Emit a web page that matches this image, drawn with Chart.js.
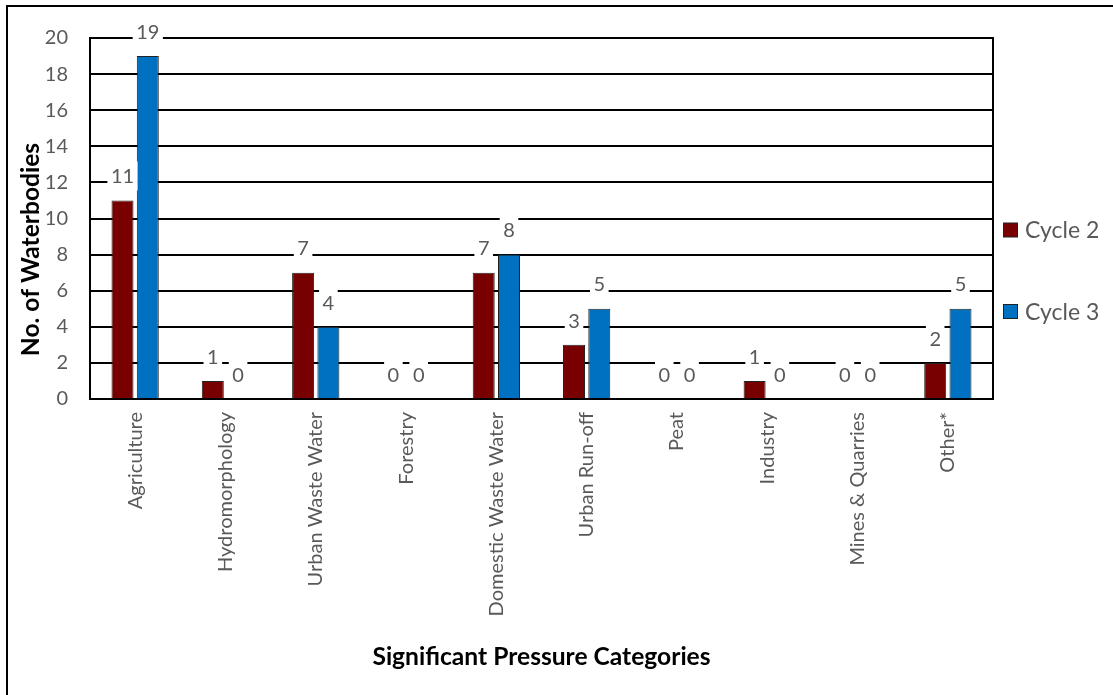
<!DOCTYPE html>
<html>
<head>
<meta charset="utf-8">
<script src="https://cdn.jsdelivr.net/npm/chart.js@4.4.1/dist/chart.umd.min.js"></script>
<style>
  html, body { margin: 0; padding: 0; background: #fff; overflow: hidden; }
  canvas { display: block; }
</style>
</head>
<body>
<canvas id="chart" width="1113" height="695"></canvas>
<script>
// Significant pressures on waterbodies, by river basin management cycle
const categories = ['Agriculture', 'Hydromorphology', 'Urban Waste Water', 'Forestry',
  'Domestic Waste Water', 'Urban Run-off', 'Peat', 'Industry', 'Mines & Quarries', 'Other*'];
const cycle2 = [11, 1, 7, 0, 7, 3, 0, 1, 0, 2];
const cycle3 = [19, 0, 4, 0, 8, 5, 0, 0, 0, 5];
const seriesNames = ['Cycle 2', 'Cycle 3'];
const seriesColors = ['#780000', '#0070C0'];
const yMin = 0, yMax = 20, yStep = 2;
const xTitle = 'Significant Pressure Categories';
const yTitle = 'No. of Waterbodies';

const FONT = 'Lato, "Liberation Sans", sans-serif';
const GREY = '#595959';

// white page with a border along the top and left
const pageFrame = {
  id: 'pageFrame',
  beforeDraw(chart) {
    const ctx = chart.ctx;
    ctx.save();
    ctx.fillStyle = '#fff';
    ctx.fillRect(0, 0, chart.width, chart.height);
    ctx.strokeStyle = '#000';
    ctx.lineWidth = 2;
    ctx.beginPath();
    ctx.moveTo(6, 6); ctx.lineTo(chart.width, 6);
    ctx.moveTo(7, 5); ctx.lineTo(7, chart.height);
    ctx.stroke();
    ctx.restore();
  }
};

// black outline round the plot area
const plotFrame = {
  id: 'plotFrame',
  beforeDatasetsDraw(chart) {
    const { ctx, chartArea: a } = chart;
    ctx.save();
    ctx.strokeStyle = '#000';
    ctx.lineWidth = 2;
    ctx.strokeRect(Math.round(a.left), Math.round(a.top), Math.round(a.right - a.left), Math.round(a.bottom - a.top));
    ctx.restore();
  }
};

// value labels on white boxes above each bar
const valueLabels = {
  id: 'valueLabels',
  afterDatasetsDraw(chart) {
    const ctx = chart.ctx;
    ctx.save();
    ctx.font = '20px ' + FONT;
    chart.data.datasets.forEach((ds, i) => {
      chart.getDatasetMeta(i).data.forEach((el, j) => {
        const txt = String(ds.data[j]);
        const w = ctx.measureText(txt).width;
        const cy = el.y - 24.5;
        ctx.fillStyle = '#fff';
        ctx.fillRect(el.x - w / 2 - 3.5, cy - 14.5, w + 7, 29);
        ctx.fillStyle = GREY;
        ctx.textAlign = 'center';
        ctx.textBaseline = 'alphabetic';
        ctx.fillText(txt, el.x, cy + 7.2);
      });
    });
    ctx.restore();
  }
};

// vertical axis title, set a little below the middle of the plot
const yAxisTitle = {
  id: 'yAxisTitle',
  afterDraw(chart) {
    const { ctx, chartArea: a } = chart;
    ctx.save();
    ctx.translate(39, (a.top + a.bottom) / 2 + 31);
    ctx.rotate(-Math.PI / 2);
    ctx.font = 'bold 24.6px ' + FONT;
    ctx.fillStyle = '#000';
    ctx.textAlign = 'center';
    ctx.textBaseline = 'alphabetic';
    ctx.fillText(yTitle, 0, 0);
    ctx.restore();
  }
};

// legend to the right of the plot
const sideLegend = {
  id: 'sideLegend',
  afterDraw(chart) {
    const ctx = chart.ctx;
    const rows = [230, 311.5];
    ctx.save();
    ctx.font = '23px ' + FONT;
    chart.data.datasets.forEach((ds, i) => {
      const cy = rows[i];
      ctx.fillStyle = ds.backgroundColor;
      ctx.fillRect(1003.5, cy - 7, 14, 14);
      ctx.strokeStyle = '#222';
      ctx.lineWidth = 1;
      ctx.strokeRect(1003.5, cy - 7, 14, 14);
      ctx.fillStyle = GREY;
      ctx.textAlign = 'left';
      ctx.textBaseline = 'alphabetic';
      ctx.fillText(ds.label, 1025, cy + 8.2);
    });
    ctx.restore();
  }
};

new Chart(document.getElementById('chart'), {
  type: 'bar',
  data: {
    labels: categories,
    datasets: [
      { label: seriesNames[0], data: cycle2, backgroundColor: seriesColors[0], borderColor: '#222', borderWidth: 1 },
      { label: seriesNames[1], data: cycle3, backgroundColor: seriesColors[1], borderColor: '#222', borderWidth: 1 }
    ]
  },
  options: {
    responsive: false,
    animation: false,
    devicePixelRatio: 1,
    layout: { padding: { left: 8, top: 38, right: 120, bottom: 0 } },
    datasets: { bar: { categoryPercentage: 0.56, barPercentage: 0.87 } },
    plugins: { legend: { display: false }, tooltip: { enabled: false } },
    scales: {
      x: {
        grid: { display: false, drawTicks: false },
        border: { display: false },
        ticks: {
          autoSkip: false, maxRotation: 90, minRotation: 90, padding: 13,
          color: GREY, font: { family: FONT, size: 20 }
        },
        title: {
          display: true, text: xTitle, color: '#000',
          font: { family: FONT, size: 24.6, weight: 'bold' }, padding: { top: 0, bottom: 23 }
        },
        afterFit(scale) { scale.height = 296; }
      },
      y: {
        min: yMin, max: yMax,
        grid: { color: '#000', lineWidth: 2, drawTicks: false },
        border: { display: false },
        ticks: {
          stepSize: yStep, padding: 22, color: GREY,
          font: { family: FONT, size: 20 }
        },
        afterFit(scale) { scale.width = 82; }
      }
    }
  },
  plugins: [pageFrame, plotFrame, valueLabels, yAxisTitle, sideLegend]
});
</script>
</body>
</html>
